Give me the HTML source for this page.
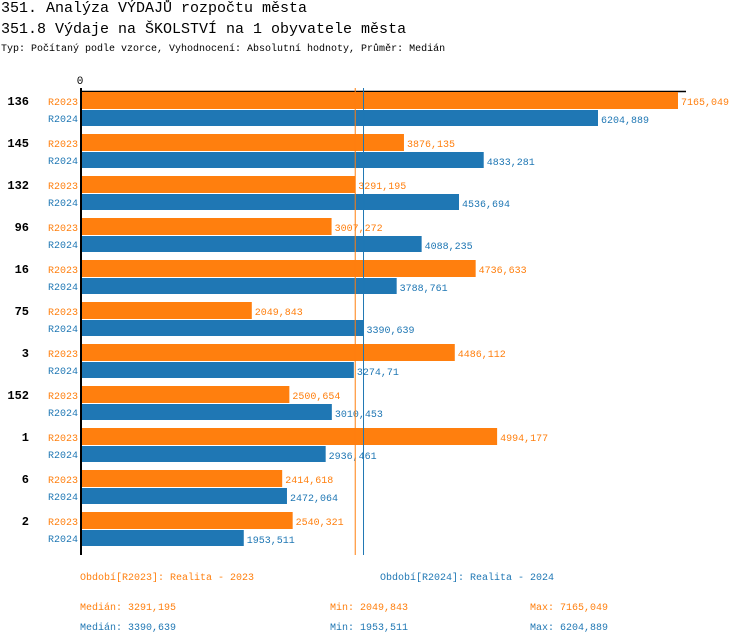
<!DOCTYPE html>
<html><head><meta charset="utf-8"><style>
body{margin:0;width:750px;height:644px;background:#fff;font-family:"Liberation Mono",monospace;overflow:hidden}
.t{position:absolute;white-space:nowrap}
</style></head><body>
<div class="t" style="left:1px;top:0px;font-size:15px">351. Analýza VÝDAJŮ rozpočtu města</div>
<div class="t" style="left:1px;top:21px;font-size:15px">351.8 Výdaje na ŠKOLSTVÍ na 1 obyvatele města</div>
<div class="t" style="left:1px;top:44px;font-size:10px">Typ: Počítaný podle vzorce, Vyhodnocení: Absolutní hodnoty, Průměr: Medián</div>
<svg id="chart" width="750" height="644" style="position:absolute;left:0;top:0" font-family="Liberation Mono, monospace"></svg>
<script>
const categories=["136","145","132","96","16","75","3","152","1","6","2"];
const r2023=[7165.049,3876.135,3291.195,3007.272,4736.633,2049.843,4486.112,2500.654,4994.177,2414.618,2540.321];
const r2024=[6204.889,4833.281,4536.694,4088.235,3788.761,3390.639,3274.71,3010.453,2936.461,2472.064,1953.511];
const labels2023=["7165,049","3876,135","3291,195","3007,272","4736,633","2049,843","4486,112","2500,654","4994,177","2414,618","2540,321"];
const labels2024=["6204,889","4833,281","4536,694","4088,235","3788,761","3390,639","3274,71","3010,453","2936,461","2472,064","1953,511"];
const median2023=3291.195, median2024=3390.639;
const O="#ff7f0e",B="#1f77b4";
const svg=document.getElementById('chart');
const X0=81,K=597/7165.049;
const x=v=>X0+v*K;
const y=i=>92+i*42;
function el(t,a,txt){const e=document.createElementNS('http://www.w3.org/2000/svg',t);for(const k in a)e.setAttribute(k,a[k]);if(txt!==undefined)e.textContent=txt;svg.appendChild(e);return e;}
let t=el('text',{x:80,y:84,'font-size':11,'text-anchor':'middle'},'0');

let l=el('line',{x1:80,x2:686,y1:91.5,y2:91.5,stroke:'#000','stroke-width':1.5});

categories.forEach((c,i)=>{
  const yy=y(i);
  let e=el('text',{x:29,y:yy+13,'font-size':12,'font-weight':'bold','text-anchor':'end'},c);
  
  e=el('text',{x:78,y:yy+13,'font-size':10,fill:O,'text-anchor':'end'},'R2023');
  
  e=el('text',{x:78,y:yy+30,'font-size':10,fill:B,'text-anchor':'end'},'R2024');
  
  e=el('rect',{x:X0,y:yy,width:x(r2023[i])-X0,height:17,fill:O});
  
  e=el('rect',{x:X0,y:yy+18,width:x(r2024[i])-X0,height:16,fill:B});
  
  e=el('text',{x:x(r2023[i])+3,y:yy+13,'font-size':10,fill:O},labels2023[i]);
  
  e=el('text',{x:x(r2024[i])+3,y:yy+31,'font-size':10,fill:B},labels2024[i]);
  
});
l=el('line',{x1:x(median2023),x2:x(median2023),y1:88,y2:555,stroke:O,'stroke-width':1});

l=el('line',{x1:x(median2024),x2:x(median2024),y1:88,y2:555,stroke:B,'stroke-width':1});

l=el('line',{x1:81,x2:81,y1:88,y2:555,stroke:'#000','stroke-width':2});

const foot=[[80,580,O,'Období[R2023]: Realita - 2023','legend-r2023'],[380,580,B,'Období[R2024]: Realita - 2024','legend-r2024'],
[80,610,O,'Medián: 3291,195','median-r2023'],[330,610,O,'Min: 2049,843','min-r2023'],[530,610,O,'Max: 7165,049','max-r2023'],
[80,630,B,'Medián: 3390,639','median-r2024'],[330,630,B,'Min: 1953,511','min-r2024'],[530,630,B,'Max: 6204,889','max-r2024']];
foot.forEach(f=>{const e=el('text',{x:f[0],y:f[1],'font-size':10,fill:f[2]},f[3]);

});
</script>
</body></html>
